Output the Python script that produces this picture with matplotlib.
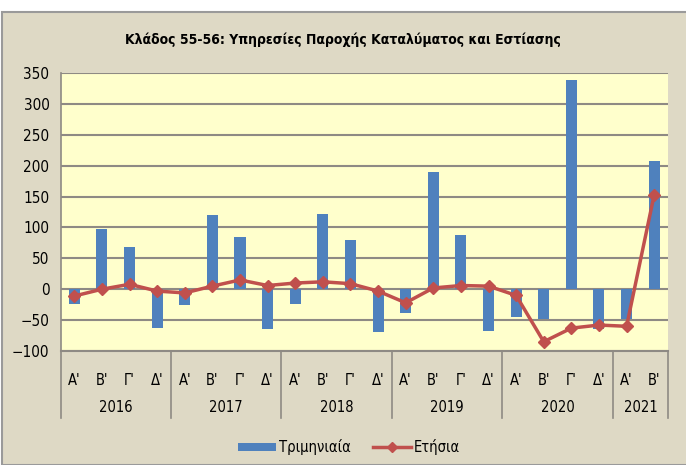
import matplotlib.pyplot as plt
from matplotlib.patches import Rectangle, Patch
from matplotlib.lines import Line2D

plt.rcParams['font.family'] = ['Liberation Sans Narrow', 'DejaVu Sans']
plt.rcParams['font.stretch'] = 'condensed'

# Data
years = ['2016', '2017', '2018', '2019', '2020', '2021']
quarters_per_year = [4, 4, 4, 4, 4, 2]
quarter_names = ["Α'", "Β'", "Γ'", "Δ'"]
quarterly = [-24, 97, 68, -62,
             -26, 120, 84, -64,
             -24, 121, 80, -69,
             -39, 190, 88, -67,
             -45, -49, 338, -64,
             -49, 207]
annual = [-11, 0, 8, -3,
          -6, 5, 15, 6,
          10, 12, 9, -3,
          -22, 2, 6, 5,
          -10, -85, -63, -58,
          -60, 153]

labels = []
for n in quarters_per_year:
    labels += quarter_names[:n]
x = list(range(len(labels)))

bg = '#DED9C5'
grid_c = '#8E8A84'
blue = '#4F81BD'
red = '#C0504D'

fig = plt.figure(figsize=(6.86, 4.65), dpi=100, facecolor='white')
# outer chart frame
frame = Rectangle((2 / 686, 0), 1, 1 - 12 / 465, transform=fig.transFigure,
                  facecolor=bg, edgecolor='#9A9A9A', linewidth=1.5, zorder=-10)
fig.patches.append(frame)

ax = fig.add_axes([60.5 / 686, 114 / 465, 607.5 / 686, 278 / 465])
ax.set_zorder(5)
ax.set_facecolor('#FFFFCC')

ax.bar(x, quarterly, width=0.4, color=blue, zorder=3)
ax.plot(x, annual, color=red, linewidth=2.5, marker='D', markersize=6, zorder=4)

ax.set_xlim(-0.5, len(labels) - 0.5)
ax.set_ylim(-100, 350)
ax.set_yticks(range(-100, 351, 50))
ax.yaxis.grid(True, color=grid_c, linewidth=1.5, zorder=1)
ax.tick_params(axis='y', length=0, labelsize=11, pad=8)
ax.set_xticks([])
for side in ['top', 'right']:
    ax.spines[side].set_visible(False)
ax.spines['left'].set_color(grid_c)
ax.spines['bottom'].set_color(grid_c)
ax.spines['left'].set_linewidth(1.2)
ax.spines['bottom'].set_linewidth(1.5)

# multi-level category axis
tr = ax.get_xaxis_transform()
for xi, lab in zip(x, labels):
    ax.text(xi, -0.105, lab, transform=tr, ha='center', va='center', fontsize=10.5)
start = -0.5
bounds = [start]
for yr, n in zip(years, quarters_per_year):
    ax.text(start + n / 2, -0.205, yr, transform=tr, ha='center', va='center', fontsize=10.5)
    start += n
    bounds.append(start)
for b in bounds:
    ax.plot([b, b], [0, -0.24], transform=tr, color=grid_c, linewidth=1.2, clip_on=False)

fig.text(0.5, 1 - 40 / 465, 'Κλάδος 55-56: Υπηρεσίες Παροχής Καταλύματος και Εστίασης',
         ha='center', va='center', fontsize=10, fontweight='bold')

handles = [Patch(facecolor=blue, label='Τριμηνιαία'),
           Line2D([], [], color=red, linewidth=2.5, marker='D', markersize=5, label='Ετήσια')]
fig.legend(handles=handles, loc='center', bbox_to_anchor=(349 / 686, 1 - 447 / 465), ncol=2,
           frameon=False, fontsize=10.5, handlelength=2.6, handleheight=0.5,
           handletextpad=0.2, columnspacing=1.5)

fig.savefig('out.png', dpi=100, facecolor=fig.get_facecolor())
